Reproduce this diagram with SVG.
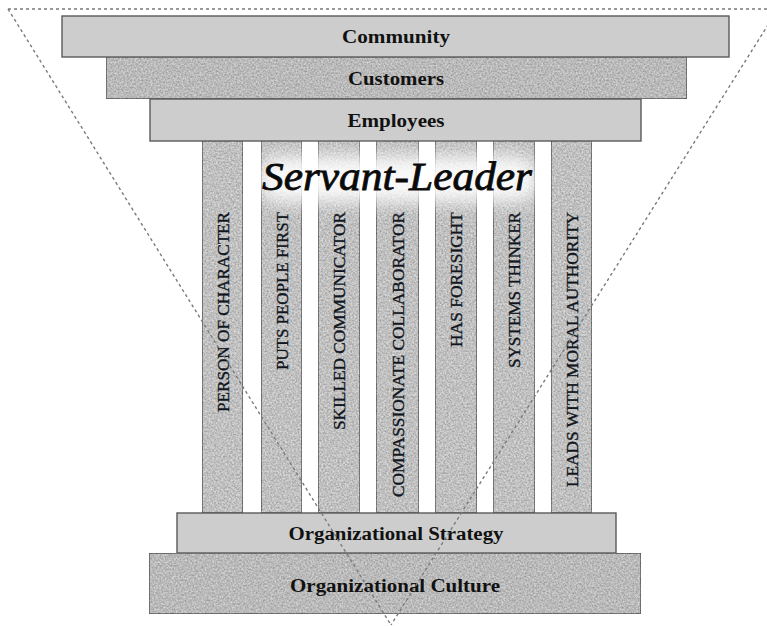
<svg xmlns="http://www.w3.org/2000/svg" width="767" height="626" viewBox="0 0 767 626">
  <defs>
    <!-- fine stone grain used on textured slabs and pillars -->
    <filter id="grain" x="0" y="0" width="100%" height="100%" color-interpolation-filters="sRGB">
      <feTurbulence type="fractalNoise" baseFrequency="0.55" numOctaves="3" seed="7" result="noise"/>
      <feColorMatrix in="noise" type="matrix" result="gray"
        values="0.45 0 0 0 0.66  0.45 0 0 0 0.66  0.45 0 0 0 0.66  0 0 0 0 1"/>
      <feBlend in="SourceGraphic" in2="gray" mode="multiply" result="mix"/>
      <feComposite in="mix" in2="SourceGraphic" operator="in"/>
    </filter>
    <filter id="haze" x="-30%" y="-60%" width="160%" height="220%">
      <feGaussianBlur stdDeviation="9"/>
    </filter>
    <style>
      .flat { fill: #cdcdcd; stroke: #5a5a5a; stroke-width: 1.4; }
      .rough { fill: #d2d2d2; stroke: #5a5a5a; stroke-width: 1.4; filter: url(#grain); }
      .pillar { fill: #d9d9d9; stroke: #5f5f5f; stroke-width: 1.4; filter: url(#grain); }
      .label { font-family: "Liberation Serif", "DejaVu Serif", serif; font-weight: bold; font-size: 18px; fill: #111; text-anchor: middle; }
      .trait { font-family: "Liberation Serif", "DejaVu Serif", serif; font-size: 16px; fill: #101520; stroke: #101520; stroke-width: 0.35; text-anchor: end; }
      .title { font-family: "Liberation Serif", "DejaVu Serif", serif; font-style: italic; font-size: 41px; fill: #0a0a0a; stroke: #0a0a0a; stroke-width: 0.8; text-anchor: middle; }
      .frame { fill: none; stroke: #7a7a7a; stroke-width: 1.4; stroke-dasharray: 3 3; }
    </style>
  </defs>

  <rect width="767" height="626" fill="#ffffff"/>

  <!-- upper tiers -->
  <g id="community">
    <rect class="flat" x="62" y="16" width="667" height="41"/>
    <text class="label" x="396" y="43" textLength="108" lengthAdjust="spacingAndGlyphs">Community</text>
  </g>
  <g id="customers">
    <rect class="rough" x="106" y="57" width="581" height="42"/>
    <text class="label" x="396" y="85" textLength="96" lengthAdjust="spacingAndGlyphs">Customers</text>
  </g>
  <g id="employees">
    <rect class="flat" x="150" y="99" width="491" height="42"/>
    <text class="label" x="396" y="127" textLength="97" lengthAdjust="spacingAndGlyphs">Employees</text>
  </g>

  <!-- pillars -->
  <g id="pillar-character">
    <rect class="pillar" x="202" y="141" width="41" height="372"/>
    <text class="trait" transform="translate(228.5,212) rotate(-90)" textLength="200" lengthAdjust="spacingAndGlyphs">PERSON OF CHARACTER</text>
  </g>
  <g id="pillar-people">
    <rect class="pillar" x="261" y="141" width="41" height="372"/>
    <text class="trait" transform="translate(287.5,212) rotate(-90)" textLength="158" lengthAdjust="spacingAndGlyphs">PUTS PEOPLE FIRST</text>
  </g>
  <g id="pillar-communicator">
    <rect class="pillar" x="318" y="141" width="42" height="372"/>
    <text class="trait" transform="translate(345,212) rotate(-90)" textLength="218" lengthAdjust="spacingAndGlyphs">SKILLED COMMUNICATOR</text>
  </g>
  <g id="pillar-collaborator">
    <rect class="pillar" x="376" y="141" width="43" height="372"/>
    <text class="trait" transform="translate(404,212) rotate(-90)" textLength="285" lengthAdjust="spacingAndGlyphs">COMPASSIONATE COLLABORATOR</text>
  </g>
  <g id="pillar-foresight">
    <rect class="pillar" x="435" y="141" width="42" height="372"/>
    <text class="trait" transform="translate(462,212) rotate(-90)" textLength="135" lengthAdjust="spacingAndGlyphs">HAS FORESIGHT</text>
  </g>
  <g id="pillar-systems">
    <rect class="pillar" x="493" y="141" width="42" height="372"/>
    <text class="trait" transform="translate(520,212) rotate(-90)" textLength="156" lengthAdjust="spacingAndGlyphs">SYSTEMS THINKER</text>
  </g>
  <g id="pillar-authority">
    <rect class="pillar" x="551" y="141" width="41" height="372"/>
    <text class="trait" transform="translate(577.5,212) rotate(-90)" textLength="275" lengthAdjust="spacingAndGlyphs">LEADS WITH MORAL AUTHORITY</text>
  </g>

  <!-- title across the pillar heads -->
  <g id="servant-leader">
    <rect x="258" y="156" width="280" height="46" rx="20" fill="#ffffff" opacity="0.9" filter="url(#haze)"/>
    <text class="title" x="397" y="190" textLength="270" lengthAdjust="spacingAndGlyphs">Servant-Leader</text>
  </g>

  <!-- foundation -->
  <g id="strategy">
    <rect class="flat" x="177" y="513" width="439" height="40"/>
    <text class="label" x="396" y="540" textLength="215" lengthAdjust="spacingAndGlyphs">Organizational Strategy</text>
  </g>
  <g id="culture">
    <rect class="rough" x="149" y="553" width="492" height="61"/>
    <text class="label" x="395" y="592" textLength="210" lengthAdjust="spacingAndGlyphs">Organizational Culture</text>
  </g>

  <!-- dashed inverted triangle -->
  <g id="connectors">
    <path class="frame" d="M8 9 H767 M8 9 L391 625 M778 9 L391 625"/>
  </g>
</svg>
